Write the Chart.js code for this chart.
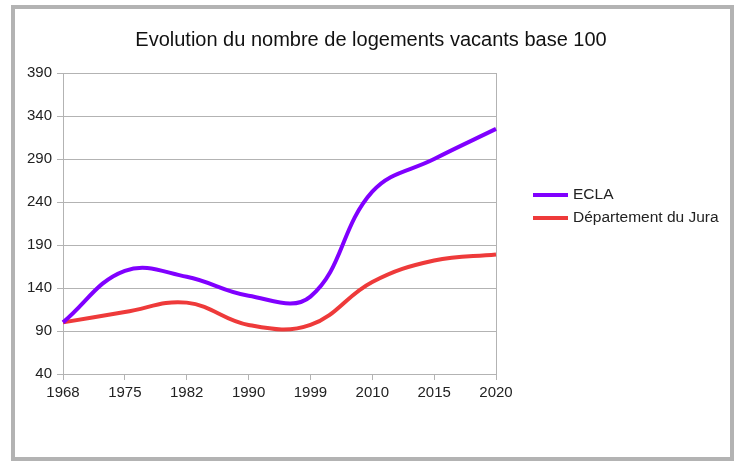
<!DOCTYPE html>
<html lang="fr">

<head>
    <meta charset="utf-8" />
    <title>Evolution du nombre de logements vacants base 100</title>
    <script src="https://cdn.jsdelivr.net/npm/chart.js"></script>
    <style>
        html, body {
            margin: 0;
            padding: 0;
            background: #fff;
        }

        .chart-wrap {
            position: relative;
            width: 742px;
            height: 461px;
            overflow: hidden;
        }

        .chart-frame {
            position: absolute;
            left: 11px;
            top: 5px;
            width: 723px;
            height: 456px;
            box-sizing: border-box;
            border: 4px solid #b3b3b3;
        }

        canvas {
            position: absolute;
            left: 0;
            top: 0;
        }
    </style>
</head>

<body>
    <div class="chart-wrap">
        <div class="chart-frame"></div>
        <canvas id="vacantsChart" width="742" height="461"></canvas>
    </div>

    <script>
        // Data
        const years = ['1968', '1975', '1982', '1990', '1999', '2010', '2015', '2020'];
        const eclaValues = [100, 160, 153, 131, 130, 252, 290, 325];
        const juraValues = [100, 112, 123, 97, 97, 147, 172, 179];
        const yTicks = [40, 90, 140, 190, 240, 290, 340, 390];

        const chartTitle = 'Evolution du nombre de logements vacants base 100';
        const gridGrey = '#b3b3b3';
        const textColor = '#222';
        const fontFamily = '"Liberation Sans", Arial, sans-serif';

        // title + legend drawn by hand to sit where the original has them
        const titleAndLegend = {
            id: 'titleAndLegend',
            afterDraw(chart) {
                const ctx = chart.ctx;
                ctx.save();
                ctx.fillStyle = '#111';
                ctx.font = '20px ' + fontFamily;
                ctx.textAlign = 'center';
                ctx.textBaseline = 'middle';
                ctx.fillText(chartTitle, 371, 40);

                ctx.font = '15.5px ' + fontFamily;
                ctx.textAlign = 'left';
                chart.data.datasets.forEach((ds, i) => {
                    const y = 195 + i * 23;
                    ctx.strokeStyle = ds.borderColor;
                    ctx.lineWidth = 4;
                    ctx.beginPath();
                    ctx.moveTo(533, y);
                    ctx.lineTo(568, y);
                    ctx.stroke();
                    ctx.fillStyle = textColor;
                    ctx.fillText(ds.label, 573, y);
                });
                ctx.restore();
            }
        };

        const ctx = document.getElementById('vacantsChart').getContext('2d');
        const vacantsChart = new Chart(ctx, {
            type: 'line',
            data: {
                labels: years,
                datasets: [{
                    label: 'ECLA',
                    data: eclaValues,
                    borderColor: '#8000ff',
                    borderWidth: 4,
                    pointRadius: 0,
                    tension: 0.4,
                    fill: false
                }, {
                    label: 'Département du Jura',
                    data: juraValues,
                    borderColor: '#ee3a3a',
                    borderWidth: 4,
                    pointRadius: 0,
                    tension: 0.4,
                    fill: false
                }]
            },
            options: {
                responsive: false,
                animation: false,
                layout: {
                    padding: { left: 0, top: 73, right: 246, bottom: 0 }
                },
                plugins: {
                    legend: { display: false },
                    title: { display: false },
                    tooltip: { enabled: false }
                },
                scales: {
                    x: {
                        offset: false,
                        afterFit(scale) { scale.height = 87; },
                        grid: {
                            color: c => c.index === years.length - 1 ? gridGrey : 'rgba(0,0,0,0)',
                            tickColor: gridGrey,
                            tickLength: 6
                        },
                        border: { color: gridGrey },
                        ticks: {
                            color: textColor,
                            font: { family: fontFamily, size: 15 },
                            padding: 4,
                            maxRotation: 0,
                            autoSkip: false
                        }
                    },
                    y: {
                        min: yTicks[0],
                        max: yTicks[yTicks.length - 1],
                        afterFit(scale) { scale.width = 63; },
                        afterBuildTicks(scale) {
                            scale.ticks = yTicks.map(v => ({ value: v }));
                        },
                        grid: {
                            color: gridGrey,
                            tickColor: gridGrey,
                            tickLength: 6
                        },
                        border: { color: gridGrey },
                        ticks: {
                            color: textColor,
                            font: { family: fontFamily, size: 15 },
                            padding: 5
                        }
                    }
                }
            },
            plugins: [titleAndLegend]
        });
    </script>
</body>

</html>
